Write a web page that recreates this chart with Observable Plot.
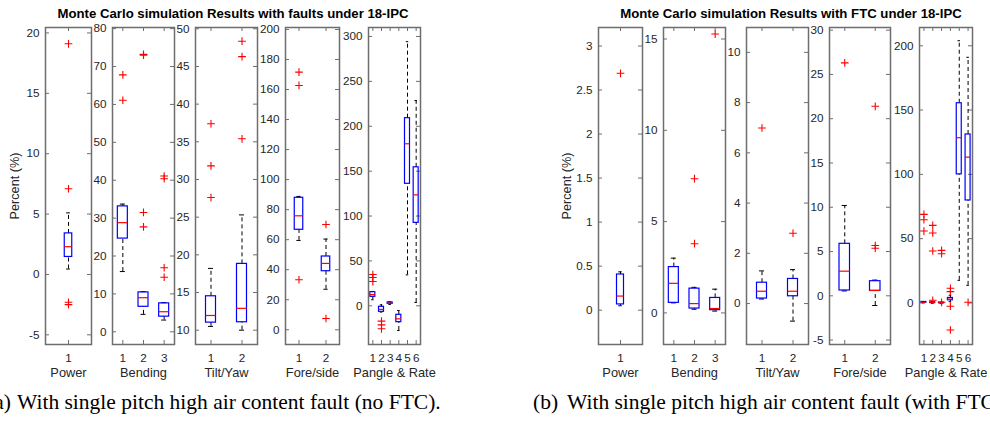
<!DOCTYPE html>
<html><head><meta charset="utf-8">
<script src="https://cdn.jsdelivr.net/npm/d3@7"></script>
<script src="https://cdn.jsdelivr.net/npm/@observablehq/plot@0.6"></script>
<style>
body{margin:0;background:#fff;}
#page{position:relative;width:990px;height:422px;overflow:hidden;background:#fff;font-family:"Liberation Sans",Arial,sans-serif;}
.title{position:absolute;font-weight:bold;font-size:13.2px;line-height:13px;color:#000;white-space:nowrap;transform:translateX(-50%);}
.ylab{position:absolute;font-size:12.7px;line-height:12px;color:#262626;white-space:nowrap;transform:translate(-50%,-50%) rotate(-90deg);}
.cap{position:absolute;font-family:"Liberation Serif","Times New Roman",serif;font-size:21.5px;line-height:21px;white-space:nowrap;color:#000;}
.sub{position:absolute;}
</style></head><body><div id="page"></div>
<script>
// ---------- titles / labels ----------
const titleA = "Monte Carlo simulation Results with faults under 18-IPC";
const titleB = "Monte Carlo simulation Results with FTC under 18-IPC";
const yLabel = "Percent (%)";
const captionA = ["(a)", "With single pitch high air content fault (no FTC)."];
const captionB = ["(b)", "With single pitch high air content fault (with FTC)"];
const groupNames = ["Power", "Bending", "Tilt/Yaw", "Fore/side", "Pangle & Rate"];

// ---------- (a) no FTC ----------
const aPowerTicks = [-5, 0, 5, 10, 15, 20];
const aPowerStats = [{cat: 1, lo: 0.45, q1: 1.45, med: 2.3, q3: 3.4, hi: 5.1}];
const aPowerOut = [{cat: 1, v: 19.1}, {cat: 1, v: 7.1}, {cat: 1, v: -2.3}, {cat: 1, v: -2.5}];

const aBendTicks = [0, 10, 20, 30, 40, 50, 60, 70, 80];
const aBendStats = [
  {cat: 1, lo: 15.9, q1: 24.6, med: 28.8, q3: 33.1, hi: 33.7},
  {cat: 2, lo: 4.6, q1: 6.6, med: 9.0, q3: 10.4, hi: 10.6},
  {cat: 3, lo: 3.1, q1: 4.0, med: 5.3, q3: 7.5, hi: 7.7}
];
const aBendOut = [
  {cat: 1, v: 67.8}, {cat: 1, v: 61.1},
  {cat: 2, v: 73.2}, {cat: 2, v: 73.0}, {cat: 2, v: 31.5}, {cat: 2, v: 27.7},
  {cat: 3, v: 41.1}, {cat: 3, v: 40.4}, {cat: 3, v: 16.9}, {cat: 3, v: 14.4}
];

const aTiltTicks = [10, 15, 20, 25, 30, 35, 40, 45, 50];
const aTiltStats = [
  {cat: 1, lo: 10.5, q1: 11.0, med: 11.95, q3: 14.5, hi: 18.2},
  {cat: 2, lo: 10.0, q1: 11.05, med: 12.9, q3: 18.8, hi: 25.3}
];
const aTiltOut = [
  {cat: 1, v: 37.4}, {cat: 1, v: 31.8}, {cat: 1, v: 27.6},
  {cat: 2, v: 48.35}, {cat: 2, v: 46.3}, {cat: 2, v: 35.4}
];

const aForeTicks = [0, 20, 40, 60, 80, 100, 120, 140, 160, 180, 200];
const aForeStats = [
  {cat: 1, lo: 59.5, q1: 66.6, med: 75.9, q3: 87.9, hi: 88.8},
  {cat: 2, lo: 27, q1: 39, med: 44.2, q3: 48.8, hi: 60.4}
];
const aForeOut = [
  {cat: 1, v: 171.6}, {cat: 1, v: 162.7}, {cat: 1, v: 33.3},
  {cat: 2, v: 70.1}, {cat: 2, v: 7.5}
];

const aPangTicks = [0, 50, 100, 150, 200, 250, 300];
const aPangStats = [
  {cat: 1, lo: 6.7, q1: 10, med: 12.5, q3: 15.2, hi: 16},
  {cat: 2, lo: -7, q1: -6.7, med: -4, q3: -1.1, hi: 1.1},
  {cat: 3, lo: 1.5, q1: 2.2, med: 3, q3: 3.8, hi: 4.5},
  {cat: 4, lo: -27.5, q1: -18.2, med: -14.5, q3: -10, hi: -5.2},
  {cat: 5, lo: 34.5, q1: 135.9, med: 180.5, q3: 209, hi: 294.2},
  {cat: 6, lo: 3.7, q1: 92.4, med: 123.6, q3: 154.3, hi: 228.6}
];
const aPangOut = [
  {cat: 1, v: 34.9}, {cat: 1, v: 31.5}, {cat: 1, v: 27},
  {cat: 2, v: -17.1}, {cat: 2, v: -21.2}, {cat: 2, v: -25.6}
];

// ---------- (b) with FTC ----------
const bPowerTicks = [0, 0.5, 1, 1.5, 2, 2.5, 3];
const bPowerStats = [{cat: 1, lo: 0.05, q1: 0.065, med: 0.16, q3: 0.405, hi: 0.435}];
const bPowerOut = [{cat: 1, v: 2.69}];

const bBendTicks = [0, 5, 10, 15];
const bBendStats = [
  {cat: 1, lo: 0.55, q1: 0.55, med: 1.62, q3: 2.51, hi: 3.0},
  {cat: 2, lo: 0.2, q1: 0.24, med: 0.51, q3: 1.33, hi: 1.4},
  {cat: 3, lo: 0.1, q1: 0.15, med: 0.24, q3: 0.82, hi: 1.3}
];
const bBendOut = [{cat: 2, v: 3.79}, {cat: 2, v: 7.35}, {cat: 3, v: 15.27}];

const bTiltTicks = [0, 2, 4, 6, 8, 10];
const bTiltStats = [
  {cat: 1, lo: 0.18, q1: 0.2, med: 0.49, q3: 0.83, hi: 1.3},
  {cat: 2, lo: -0.7, q1: 0.29, med: 0.49, q3: 0.98, hi: 1.35}
];
const bTiltOut = [{cat: 1, v: 6.99}, {cat: 2, v: 2.8}];

const bForeTicks = [-5, 0, 5, 10, 15, 20, 25, 30];
const bForeStats = [
  {cat: 1, lo: 0.55, q1: 0.6, med: 2.78, q3: 5.87, hi: 10.2},
  {cat: 2, lo: -1.1, q1: 0.56, med: 0.6, q3: 1.65, hi: 1.77}
];
const bForeOut = [{cat: 1, v: 26.3}, {cat: 2, v: 21.4}, {cat: 2, v: 5.68}, {cat: 2, v: 5.37}];

const bPangTicks = [0, 50, 100, 150, 200];
const bPangStats = [
  {cat: 1, lo: 0, q1: 0.2, med: 0.5, q3: 0.8, hi: 1},
  {cat: 2, lo: -0.3, q1: 0, med: 0.2, q3: 0.5, hi: 0.8},
  {cat: 3, lo: -0.5, q1: -0.2, med: 0, q3: 0.3, hi: 0.5},
  {cat: 4, lo: 1, q1: 2.1, med: 3, q3: 3.9, hi: 6},
  {cat: 5, lo: 17.6, q1: 100, med: 128.5, q3: 155.3, hi: 203.9},
  {cat: 6, lo: 13.7, q1: 79.7, med: 113.4, q3: 131, hi: 191}
];
const bPangOut = [
  {cat: 1, v: 68.9}, {cat: 1, v: 64.7}, {cat: 1, v: 55.9},
  {cat: 2, v: 60.3}, {cat: 2, v: 54.4}, {cat: 2, v: 40.4}, {cat: 2, v: 2.1},
  {cat: 3, v: 40.9}, {cat: 3, v: 38.3}, {cat: 3, v: 0.5},
  {cat: 4, v: 11.4}, {cat: 4, v: 8.8}, {cat: 4, v: -2.5}, {cat: 4, v: -21},
  {cat: 6, v: 0.5}
];

// ---------- layout (pixel frames, y domains, box widths in px) ----------
const panels = [
  {left: 45, right: 91, top: 27, bottom: 344, n: 1, ydom: [-5.8, 20.45], ticks: aPowerTicks, stats: aPowerStats, outs: aPowerOut, bw: 7.5, name: groupNames[0]},
  {left: 112, right: 174, top: 27, bottom: 344, n: 3, ydom: [-3.35, 80.3], ticks: aBendTicks, stats: aBendStats, outs: aBendOut, bw: 10, name: groupNames[1]},
  {left: 195, right: 257, top: 27, bottom: 344, n: 2, ydom: [8.1, 50.17], ticks: aTiltTicks, stats: aTiltStats, outs: aTiltOut, bw: 10, name: groupNames[2]},
  {left: 285, right: 339, top: 27, bottom: 344, n: 2, ydom: [-9.8, 201.3], ticks: aForeTicks, stats: aForeStats, outs: aForeOut, bw: 8.5, name: groupNames[3]},
  {left: 368, right: 420, top: 27, bottom: 344, n: 6, ydom: [-43.1, 310], ticks: aPangTicks, stats: aPangStats, outs: aPangOut, bw: 5, name: groupNames[4]},
  {left: 598, right: 642, top: 27, bottom: 344, n: 1, ydom: [-0.39, 3.21], ticks: bPowerTicks, stats: bPowerStats, outs: bPowerOut, bw: 7, name: groupNames[0]},
  {left: 663, right: 725, top: 27, bottom: 344, n: 3, ydom: [-1.73, 15.63], ticks: bBendTicks, stats: bBendStats, outs: bBendOut, bw: 10, name: groupNames[1]},
  {left: 746, right: 808, top: 27, bottom: 344, n: 2, ydom: [-1.63, 10.99], ticks: bTiltTicks, stats: bTiltStats, outs: bTiltOut, bw: 10, name: groupNames[2]},
  {left: 829, right: 890, top: 27, bottom: 344, n: 2, ydom: [-5.5, 30.3], ticks: bForeTicks, stats: bForeStats, outs: bForeOut, bw: 10.5, name: groupNames[3]},
  {left: 919, right: 972, top: 27, bottom: 344, n: 6, ydom: [-32.3, 214.2], ticks: bPangTicks, stats: bPangStats, outs: bPangOut, bw: 5, name: groupNames[4]}
];

const page = document.getElementById("page");
const axisGray = "#6e6e6e";
const textGray = "#262626";

function subplot(p) {
  const mL = 34, mR = 4, mT = 4, mB = 50;
  const fw = p.right - p.left, fh = p.bottom - p.top;
  const ppu = fw / p.n;
  const hb = p.bw / 2 / ppu, hc = p.bw / 4 / ppu;
  const cats = d3.range(1, p.n + 1);
  const tl = 4;
  const svg = Plot.plot({
    width: fw + mL + mR, height: fh + mT + mB,
    marginLeft: mL, marginRight: mR, marginTop: mT, marginBottom: mB,
    x: {domain: [0.5, p.n + 0.5]},
    y: {domain: p.ydom},
    style: {background: "transparent", fontFamily: "'Liberation Sans', Arial, sans-serif", fontSize: "11.7px", color: textGray, overflow: "visible"},
    marks: [
      Plot.ruleY(p.ticks, {y: d => d, insetRight: fw - tl, stroke: axisGray, strokeWidth: 1}),
      Plot.ruleY(p.ticks, {y: d => d, insetLeft: fw - tl, stroke: axisGray, strokeWidth: 1}),
      Plot.ruleX(cats, {x: d => d, insetBottom: fh - tl, stroke: axisGray, strokeWidth: 1}),
      Plot.ruleX(cats, {x: d => d, insetTop: fh - tl, stroke: axisGray, strokeWidth: 1}),
      Plot.axisY({ticks: p.ticks, tickSize: 0, tickPadding: 6, label: null, tickFormat: d => String(d), fill: textGray}),
      Plot.axisX({ticks: cats, tickSize: 0, tickPadding: 9, label: null, tickFormat: d => String(d), fill: textGray}),
      Plot.text([p.name], {frameAnchor: "bottom", dy: 32, fontSize: 12.8, fill: textGray}),
      // whiskers
      Plot.ruleX(p.stats, {x: "cat", y1: "q3", y2: "hi", stroke: "#000", strokeWidth: 1, strokeDasharray: "4,3"}),
      Plot.ruleX(p.stats, {x: "cat", y1: "lo", y2: "q1", stroke: "#000", strokeWidth: 1, strokeDasharray: "4,3"}),
      Plot.ruleY(p.stats, {y: "hi", x1: d => d.cat - hc, x2: d => d.cat + hc, stroke: "#000", strokeWidth: 1}),
      Plot.ruleY(p.stats, {y: "lo", x1: d => d.cat - hc, x2: d => d.cat + hc, stroke: "#000", strokeWidth: 1}),
      // boxes
      Plot.rect(p.stats, {x1: d => d.cat - hb, x2: d => d.cat + hb, y1: "q1", y2: "q3", fill: "none", stroke: "#0000ff", strokeWidth: 1.2}),
      Plot.ruleY(p.stats, {y: "med", x1: d => d.cat - hb, x2: d => d.cat + hb, stroke: "#ff0000", strokeWidth: 1.2}),
      // outliers
      Plot.dot(p.outs, {x: "cat", y: "v", symbol: "plus", r: 2.6, stroke: "#ff0000", fill: "none", strokeWidth: 1.1}),
      Plot.frame({stroke: axisGray, strokeWidth: 1.5})
    ]
  });
  const div = document.createElement("div");
  div.className = "sub";
  div.style.left = (p.left - mL) + "px";
  div.style.top = (p.top - mT) + "px";
  div.appendChild(svg);
  page.appendChild(div);
}
panels.forEach(subplot);

function addText(cls, txt, x, y) {
  const d = document.createElement("div");
  d.className = cls;
  d.textContent = txt;
  d.style.left = x + "px";
  d.style.top = y + "px";
  page.appendChild(d);
  return d;
}
addText("title", titleA, 233, 7);
addText("title", titleB, 791, 7);
addText("ylab", yLabel, 15, 185.5);
addText("ylab", yLabel, 567, 185.5);
addText("cap", captionA[0], -13, 392);
addText("cap", captionA[1], 17, 392);
addText("cap", captionB[0], 533, 392);
addText("cap", captionB[1], 567, 392);
</script>
</body></html>
